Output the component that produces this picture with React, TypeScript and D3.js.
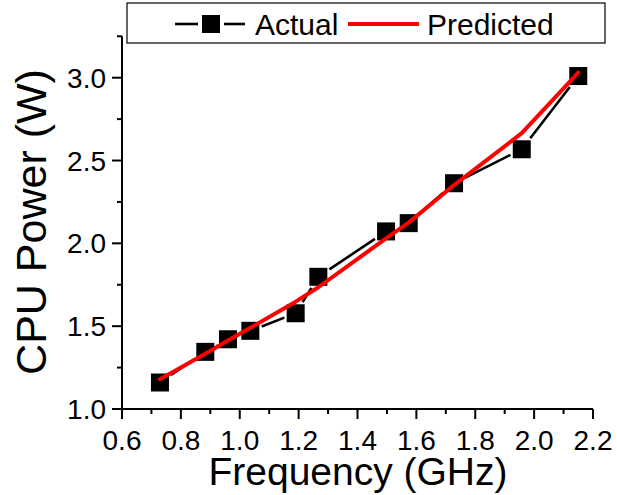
import React from "react";
import * as d3 from "d3";

const frequencies = [0.729, 0.883, 0.96, 1.036, 1.19, 1.267, 1.497, 1.574, 1.728, 1.958, 2.15];
const actualPower = [1.16, 1.345, 1.421, 1.472, 1.578, 1.798, 2.072, 2.122, 2.363, 2.568, 3.01];
const predictedPower = [1.18, 1.333, 1.413, 1.49, 1.648, 1.735, 2.03, 2.125, 2.352, 2.665, 3.03];
const xTicks = [0.6, 0.8, 1.0, 1.2, 1.4, 1.6, 1.8, 2.0, 2.2];
const xMinorTicks = [0.7, 0.9, 1.1, 1.3, 1.5, 1.7, 1.9, 2.1];
const yTicks = [1.0, 1.5, 2.0, 2.5, 3.0];
const yMinorTicks = [1.25, 1.75, 2.25, 2.75, 3.25];
const legendLabels = ["Actual", "Predicted"];
const xTitle = "Frequency (GHz)";
const yTitle = "CPU Power (W)";

const W = 617;
const H = 495;
const FONT = "'Liberation Sans', Arial, sans-serif";

export default function App() {
  const x = d3.scaleLinear().domain([0.6, 2.2]).range([122, 593]);
  const y = d3.scaleLinear().domain([1.0, 3.0]).range([409, 77.7]);
  const yTop = y(3.25);
  const half = 9;
  const gap = 2.5;

  const pts = frequencies.map((f, i) => [x(f), y(actualPower[i])] as [number, number]);
  const segs: [number, number, number, number][] = [];
  for (let i = 0; i < pts.length - 1; i++) {
    const [x1, y1] = pts[i];
    const [x2, y2] = pts[i + 1];
    const dx = x2 - x1;
    const dy = y2 - y1;
    const len = Math.hypot(dx, dy);
    const ux = dx / len;
    const uy = dy / len;
    const cut = half / Math.max(Math.abs(ux), Math.abs(uy)) + gap;
    if (len > 2 * cut) {
      segs.push([x1 + ux * cut, y1 + uy * cut, x2 - ux * cut, y2 - uy * cut]);
    }
  }

  const predLine = d3
    .line<number>()
    .x((_, i) => x(frequencies[i]))
    .y((d) => y(d))
    .curve(d3.curveLinear)(predictedPower) as string;

  return (
    <div style={{ position: "fixed", left: 0, top: 0 }}>
      <svg width={W} height={H} style={{ display: "block", background: "#fff" }} fontFamily={FONT}>
        {/* Axes */}
        <line x1={122} x2={122} y1={yTop} y2={419} stroke="#000" strokeWidth={2} />
        <line x1={112} x2={593} y1={409} y2={409} stroke="#000" strokeWidth={2} />
        {yTicks.map((t) => (
          <g key={"y" + t}>
            <line x1={112} x2={122} y1={y(t)} y2={y(t)} stroke="#000" strokeWidth={2} />
            <text x={106} y={y(t)} dy="0.36em" textAnchor="end" fontSize={28} fill="#000">
              {t.toFixed(1)}
            </text>
          </g>
        ))}
        {yMinorTicks.map((t) => (
          <line key={"ym" + t} x1={117} x2={122} y1={y(t)} y2={y(t)} stroke="#000" strokeWidth={2} />
        ))}
        {xTicks.map((t) => (
          <g key={"x" + t}>
            <line x1={x(t)} x2={x(t)} y1={409} y2={419} stroke="#000" strokeWidth={2} />
            <text x={x(t)} y={450} textAnchor="middle" fontSize={28} fill="#000">
              {t.toFixed(1)}
            </text>
          </g>
        ))}
        {xMinorTicks.map((t) => (
          <line key={"xm" + t} x1={x(t)} x2={x(t)} y1={409} y2={414} stroke="#000" strokeWidth={2} />
        ))}
        <text x={358} y={485} textAnchor="middle" fontSize={39} fill="#000">
          {xTitle}
        </text>
        <text
          transform={`translate(46, 222) rotate(-90)`}
          textAnchor="middle"
          fontSize={43}
          fill="#000"
        >
          {yTitle}
        </text>

        {/* Actual series */}
        {segs.map((s, i) => (
          <line key={"s" + i} x1={s[0]} y1={s[1]} x2={s[2]} y2={s[3]} stroke="#000" strokeWidth={2.6} />
        ))}
        {pts.map((p, i) => (
          <rect key={"p" + i} x={p[0] - half} y={p[1] - half} width={2 * half} height={2 * half} fill="#000" />
        ))}

        {/* Predicted */}
        <path d={predLine} fill="none" stroke="#ff0000" strokeWidth={4} strokeLinejoin="round" strokeLinecap="round" />

        {/* Legend */}
        <rect x={127} y={3} width={478} height={40} fill="#fff" stroke="#000" strokeWidth={1.2} />
        <line x1={175} x2={198} y1={24} y2={24} stroke="#000" strokeWidth={2.6} />
        <line x1={224} x2={245} y1={24} y2={24} stroke="#000" strokeWidth={2.6} />
        <rect x={202} y={15} width={18} height={18} fill="#000" />
        <text x={255} y={35} fontSize={30} fill="#000">
          {legendLabels[0]}
        </text>
        <line x1={348} x2={419} y1={24} y2={24} stroke="#ff0000" strokeWidth={4} />
        <text x={427} y={35} fontSize={30} fill="#000">
          {legendLabels[1]}
        </text>
      </svg>
    </div>
  );
}
